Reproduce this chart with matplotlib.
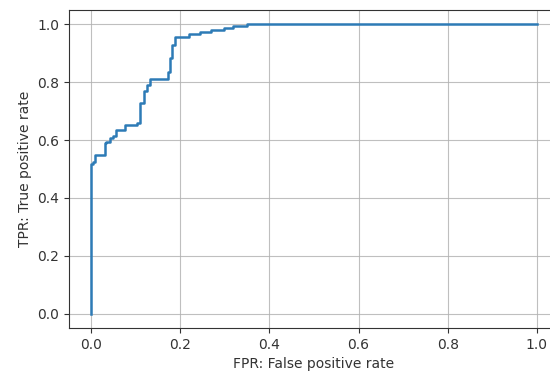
import matplotlib
matplotlib.use('Agg')
import matplotlib.pyplot as plt

# ROC curve (step corners)
fpr = [0.0, 0.0, 0.004, 0.008, 0.030, 0.033, 0.043, 0.049, 0.055, 0.076, 0.102,
       0.109, 0.118, 0.126, 0.132, 0.173, 0.176, 0.182, 0.187, 0.219, 0.244,
       0.268, 0.298, 0.319, 0.349, 1.0]
tpr = [0.0, 0.517, 0.525, 0.548, 0.590, 0.594, 0.606, 0.615, 0.635, 0.652, 0.660,
       0.730, 0.770, 0.790, 0.810, 0.835, 0.885, 0.930, 0.955, 0.967, 0.975,
       0.982, 0.988, 0.994, 1.0, 1.0]

fig = plt.figure(figsize=(5.5, 3.76), dpi=100)
ax = fig.add_axes([69 / 550, 48 / 376, 490 / 550, 318 / 376])
ax.plot(fpr, tpr, drawstyle='steps-post', color='#2d7bb6', linewidth=1.8)
ax.set_xlim(-0.05, 1.05)
ax.set_ylim(-0.05, 1.05)
ax.set_xticks([0.0, 0.2, 0.4, 0.6, 0.8, 1.0])
ax.set_yticks([0.0, 0.2, 0.4, 0.6, 0.8, 1.0])
ax.grid(True, color='#b0b0b0', linewidth=0.8, alpha=0.8)
ax.set_xlabel('FPR: False positive rate', color='#333333')
ax.set_ylabel('TPR: True positive rate', color='#333333')
ax.tick_params(colors='#333333', labelcolor='#333333')
for s in ax.spines.values():
    s.set_color('#333333')

fig.savefig('out.png', dpi=100)
